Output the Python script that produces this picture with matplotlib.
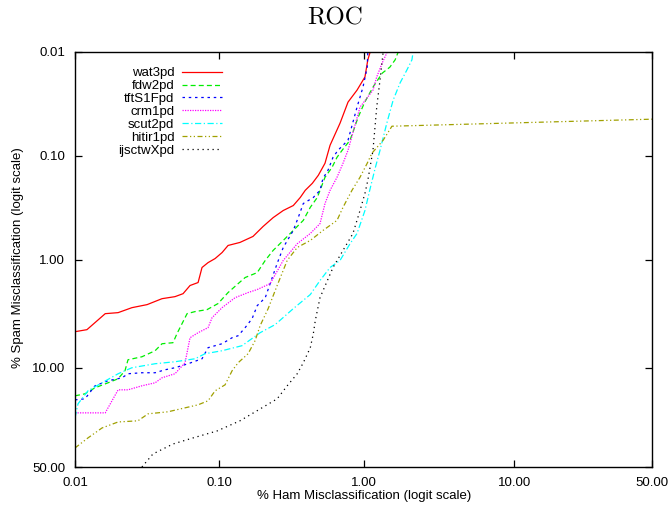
import numpy as np
import matplotlib
matplotlib.use("Agg")
from matplotlib import pyplot as plt

# ROC curves, values in percent (ham misclassification, spam misclassification)
wat3_x = [0.010, 0.0121, 0.0162, 0.0199, 0.0248, 0.0316, 0.0401, 0.0493, 0.0561, 0.0627, 0.0713, 0.0759,
          0.0836, 0.0935, 0.1045, 0.115, 0.139, 0.171, 0.201, 0.236, 0.277, 0.325, 0.363, 0.393, 0.44,
          0.484, 0.538, 0.583, 0.683, 0.775, 0.894, 1.013, 1.06, 1.10]
wat3_y = [4.73, 4.53, 3.22, 3.15, 2.83, 2.65, 2.33, 2.23, 2.09, 1.75, 1.64, 1.18, 1.06, 0.97, 0.85, 0.727,
          0.68, 0.596, 0.478, 0.393, 0.336, 0.301, 0.252, 0.215, 0.184, 0.154, 0.118, 0.0792, 0.0485,
          0.0304, 0.0233, 0.0174, 0.0119, 0.010]

fdw2_x = [0.010, 0.01173, 0.01376, 0.01693, 0.01987, 0.0222, 0.0233, 0.0291, 0.0359, 0.0401, 0.0478,
          0.0509, 0.0598, 0.0679, 0.0823, 0.098, 0.115, 0.135, 0.151, 0.183, 0.208, 0.236, 0.277, 0.325,
          0.381, 0.426, 0.476, 0.538, 0.602, 0.651, 0.706, 0.80, 0.91, 1.01, 1.15, 1.33, 1.50, 1.63, 1.71]
fdw2_y = [17.09, 16.46, 14.71, 13.37, 12.37, 10.57, 8.47, 7.97, 7.04, 6.09, 5.96, 4.93, 3.22, 3.08, 2.95,
          2.59, 2.04, 1.68, 1.47, 1.32, 1.01, 0.81, 0.651, 0.522, 0.418, 0.313, 0.252, 0.161, 0.129,
          0.1034, 0.0885, 0.0708, 0.0425, 0.0304, 0.0218, 0.0160, 0.0140, 0.0119, 0.010]

tft_x = [0.010, 0.01173, 0.01376, 0.01693, 0.0212, 0.0233, 0.0291, 0.0359, 0.0421, 0.0493, 0.0608, 0.0759,
         0.0836, 0.1045, 0.1226, 0.135, 0.151, 0.1687, 0.183, 0.208, 0.2248, 0.2514, 0.277, 0.325, 0.3515,
         0.381, 0.4467, 0.497, 0.521, 0.564, 0.611, 0.661, 0.775, 0.894, 0.982, 1.05, 1.06]
tft_y = [18.39, 18.05, 14.16, 12.86, 12.13, 11.21, 10.99, 10.99, 10.36, 9.95, 9.18, 8.30, 6.61, 6.09, 5.37,
         5.15, 4.34, 3.58, 2.71, 2.28, 1.68, 1.08, 0.76, 0.522, 0.393, 0.288, 0.252, 0.215, 0.165, 0.138,
         0.1034, 0.0885, 0.0708, 0.0340, 0.0218, 0.0140, 0.010]

crm1_x = [0.010, 0.0162, 0.0199, 0.0233, 0.0291, 0.0359, 0.0401, 0.0493, 0.0579, 0.0627, 0.0713, 0.0836,
          0.0891, 0.1045, 0.1286, 0.1582, 0.183, 0.2248, 0.277, 0.346, 0.426, 0.497, 0.538, 0.583, 0.651,
          0.716, 0.775, 0.937, 1.15, 1.22, 1.33, 1.43]
crm1_y = [23.12, 23.12, 15.28, 15.28, 14.16, 13.37, 12.13, 11.21, 9.00, 5.37, 4.83, 4.34, 3.51, 2.83, 2.28,
          2.04, 1.91, 1.68, 1.01, 0.70, 0.558, 0.449, 0.288, 0.215, 0.161, 0.118, 0.0885, 0.0340, 0.0233,
          0.0174, 0.01277, 0.0102]

scut2_x = [0.010, 0.01049, 0.0123, 0.01539, 0.0199, 0.0248, 0.0359, 0.0493, 0.0679, 0.0796, 0.1045, 0.1438,
           0.1917, 0.2435, 0.325, 0.426, 0.497, 0.583, 0.683, 0.80, 0.894, 1.013, 1.10, 1.19, 1.285, 1.43,
           1.58, 1.76, 1.96, 2.12, 2.16]
scut2_y = [25.16, 19.76, 15.57, 13.37, 11.21, 9.95, 9.18, 8.82, 8.30, 7.49, 7.04, 6.34, 4.83, 4.07, 2.89,
           2.13, 1.57, 1.18, 1.01, 0.70, 0.558, 0.336, 0.206, 0.132, 0.0885, 0.0485, 0.0291, 0.0199,
           0.0149, 0.0119, 0.010]

hitir_x = [0.010, 0.0123, 0.01539, 0.0199, 0.0273, 0.0321, 0.0441, 0.0579, 0.0713, 0.0836, 0.0935, 0.1096,
           0.1226, 0.135, 0.1582, 0.1769, 0.1917, 0.2178, 0.2514, 0.295, 0.346, 0.426, 0.521, 0.651, 0.716,
           0.825, 0.937, 1.05, 1.13, 1.35, 1.55, 50.0]
hitir_y = [39.6, 34.4, 29.6, 26.9, 26.4, 23.5, 22.7, 21.2, 20.1, 18.7, 15.57, 13.9, 10.57, 9.00, 7.49, 5.71,
           4.16, 2.89, 1.75, 1.01, 0.76, 0.651, 0.522, 0.418, 0.313, 0.215, 0.161, 0.118, 0.0946, 0.0708,
           0.0519, 0.0444]

ijs_x = [0.0291, 0.0347, 0.0478, 0.0658, 0.0965, 0.139, 0.1917, 0.2514, 0.295, 0.346, 0.381, 0.426, 0.447,
         0.461, 0.481, 0.497, 0.611, 0.716, 0.838, 0.937, 1.013, 1.06, 1.15, 1.22, 1.285, 1.35]
ijs_y = [50.0, 42.8, 37.5, 34.4, 31.0, 26.4, 21.6, 18.05, 14.16, 11.21, 9.00, 6.61, 4.93, 3.74, 2.83, 2.28,
         1.18, 0.81, 0.558, 0.336, 0.230, 0.1725, 0.0885, 0.0340, 0.0186, 0.010]

ticks = [0.01, 0.1, 1.0, 10.0, 50.0]
tick_labels = ["0.01", "0.10", "1.00", "10.00", "50.00"]


def logit(p):
    p = np.clip(np.asarray(p, dtype=float), 1e-7, 100 - 1e-7)
    return np.log10(p / (100 - p))


def inv_logit(l):
    return 100 / (1 + 10 ** (-np.asarray(l, dtype=float)))


plt.rcParams['font.family'] = ['Liberation Sans', 'DejaVu Sans']

fig = plt.figure(figsize=(6.7, 5.14), dpi=100)
ax = fig.add_axes([75 / 670, 1 - 467 / 514, 577 / 670, 415 / 514])

lw = 0.9
ax.plot(wat3_x, wat3_y, color="#ff0000", lw=lw, label="wat3pd")
ax.plot(fdw2_x, fdw2_y, color="#00ee00", lw=lw, ls=(0, (4, 2.5)), label="fdw2pd")
ax.plot(tft_x, tft_y, color="#0000ff", lw=lw, ls=(0, (2, 3)), label="tftS1Fpd")
ax.plot(crm1_x, crm1_y, color="#ff00ff", lw=lw, ls=(0, (1, 1)), label="crm1pd")
ax.plot(scut2_x, scut2_y, color="#00ffff", lw=lw, ls=(0, (5, 2, 1, 2)), label="scut2pd")
ax.plot(hitir_x, hitir_y, color="#a0a000", lw=lw, ls=(0, (4, 2, 1, 2, 1, 2)), label="hitir1pd")
ax.plot(ijs_x, ijs_y, color="#000000", lw=lw, ls=(0, (1, 3)), label="ijsctwXpd")

ax.set_xscale('function', functions=(logit, inv_logit))
ax.set_yscale('function', functions=(logit, inv_logit))
ax.set_xlim(0.01, 50)
ax.set_ylim(50, 0.01)
ax.set_xticks(ticks)
ax.set_xticklabels(tick_labels)
ax.set_yticks(ticks)
ax.set_yticklabels(tick_labels)
ax.minorticks_off()
ax.tick_params(direction='in', length=5, width=0.9, top=True, right=True, labelsize=9.5, pad=7)
for s in ax.spines.values():
    s.set_linewidth(1.0)

leg = ax.legend(loc='upper right', bbox_to_anchor=(222 / 670, 1 - 67 / 514), bbox_transform=fig.transFigure,
                frameon=False, markerfirst=False, handlelength=3.0, handletextpad=0.6,
                labelspacing=0.05, borderpad=0, borderaxespad=0, fontsize=9.5)

fig.text(0.5, 1 - 18 / 514, "ROC", family="cmr10", size=18, ha="center", va="center")
fig.text(364 / 670, 1 - 496 / 514, "% Ham Misclassification (logit scale)", size=9.5, ha="center", va="center")
fig.text(18 / 670, 1 - 258 / 514, "% Spam Misclassification (logit scale)", size=9.5, ha="center", va="center",
         rotation=90)

fig.savefig("out.png", dpi=100)
